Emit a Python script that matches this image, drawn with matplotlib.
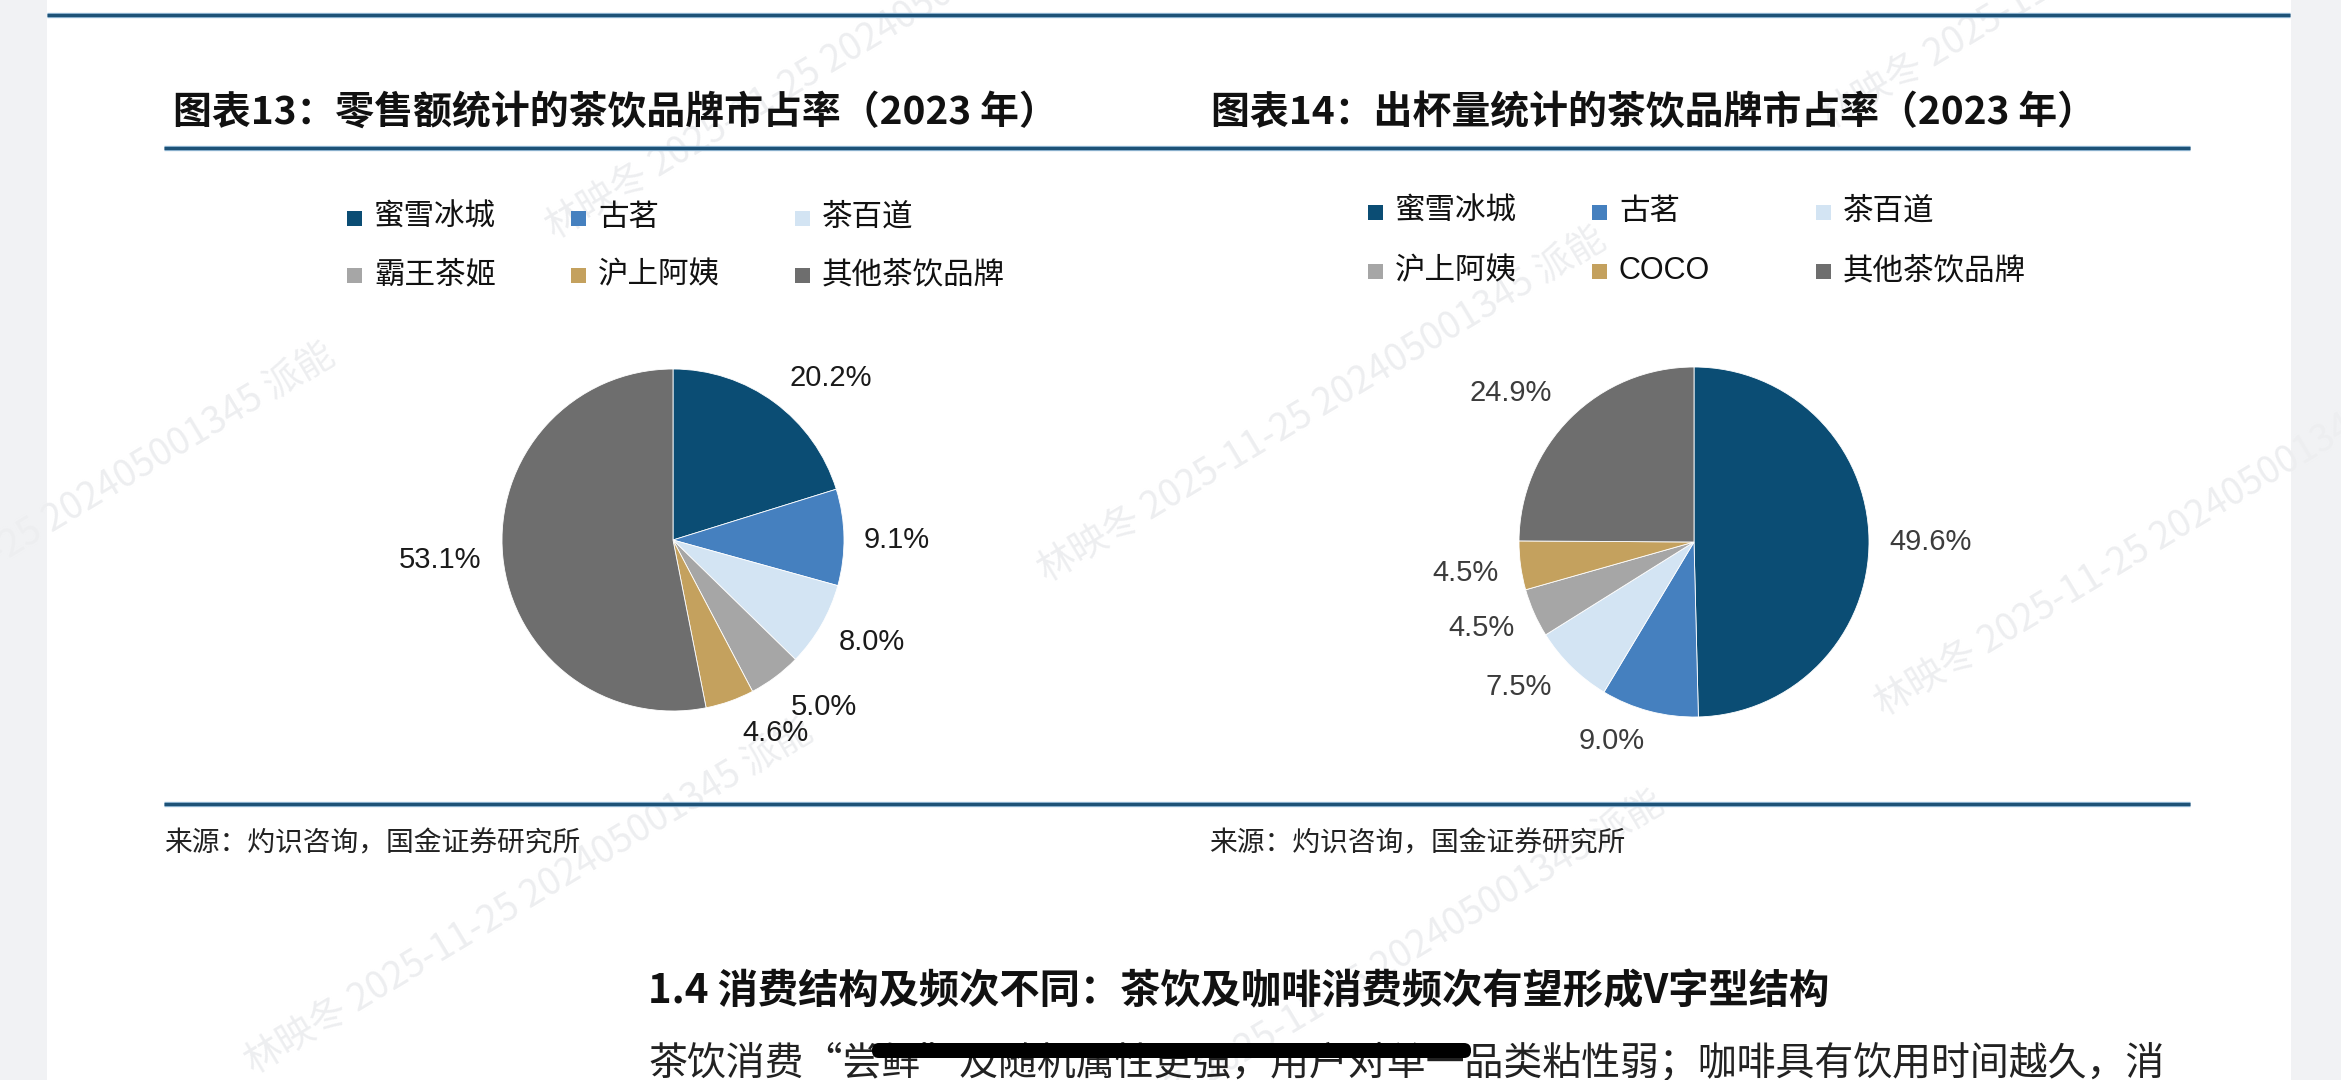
import numpy as np
import matplotlib
matplotlib.use('Agg')
import matplotlib.pyplot as plt
from matplotlib.patches import Rectangle, FancyBboxPatch

plt.rcParams['font.family'] = ['Noto Sans CJK SC', 'DejaVu Sans']

# ---------------- data ----------------
brands_retail = ['蜜雪冰城', '古茗', '茶百道', '霸王茶姬', '沪上阿姨', '其他茶饮品牌']
share_retail = [20.2, 9.1, 8.0, 5.0, 4.6, 53.1]
brands_cups = ['蜜雪冰城', '古茗', '茶百道', '沪上阿姨', 'COCO', '其他茶饮品牌']
share_cups = [49.6, 9.0, 7.5, 4.5, 4.5, 24.9]

title_retail = '图表13：零售额统计的茶饮品牌市占率（2023 年）'
title_cups = '图表14：出杯量统计的茶饮品牌市占率（2023 年）'
source_text = '来源：灼识咨询，国金证券研究所'
section_heading = '1.4 消费结构及频次不同：茶饮及咖啡消费频次有望形成V字型结构'
body_text = '茶饮消费“尝鲜”及随机属性更强，用户对单一品类粘性弱；咖啡具有饮用时间越久，消'
watermark = '林映冬 2025-11-25 202405001345 派能'

# ---------------- style ----------------
pie_colors = ['#0B4D74', '#4580BF', '#D3E4F3', '#A6A6A6', '#C4A15E', '#6E6E6E']
W, H = 2341, 1080
DPI = 100

fig = plt.figure(figsize=(W / DPI, H / DPI), dpi=DPI)
bg = fig.add_axes([0, 0, 1, 1])
bg.set_xlim(0, W)
bg.set_ylim(H, 0)
bg.axis('off')

# page background
bg.add_patch(Rectangle((0, 0), W, H, facecolor='#F1F2F4', edgecolor='none', zorder=0))
bg.add_patch(Rectangle((47, 0), 2244, H, facecolor='white', edgecolor='none', zorder=0.1))

# watermarks (faint, rotated)
for (wx, wy) in [(555, 240), (-224, 699), (1047, 583), (1884, 717), (254, 1075),
                 (1105, 1147), (1830, 130)]:
    bg.text(wx, wy, watermark, rotation=31, rotation_mode='anchor', ha='left',
            va='baseline', fontsize=27, color='#EDEEF0', zorder=0.5)


def rule(y, x0, x1):
    bg.plot([x0, x1], [y, y], color='#8DB2CF', lw=3.8, solid_capstyle='butt', zorder=2)
    bg.plot([x0, x1], [y, y], color='#1D5277', lw=2.2, solid_capstyle='butt', zorder=2.1)


rule(15, 47, 2290)
rule(148, 164, 2190)
rule(804, 164, 2190)

# titles
for tx, txt in [(173, title_retail), (1211, title_cups)]:
    bg.text(tx, 112, txt, fontsize=28, fontweight='bold', color='#111111',
            ha='left', va='center', zorder=3)

# sources
for sx in [164, 1209]:
    bg.text(sx, 843, source_text, fontsize=20, color='#222222', ha='left',
            va='center', zorder=3)

# section heading and body
bg.text(648, 992, section_heading, fontsize=29, fontweight='bold', color='#111111',
        ha='left', va='center', zorder=3)
bg.text(648, 1064, body_text, fontsize=28, color='#222222', ha='left',
        va='center', zorder=3)
bg.add_patch(FancyBboxPatch((872, 1043), 599, 15,
                            boxstyle='round,pad=0,rounding_size=7',
                            facecolor='black', edgecolor='none', zorder=4))


def legend_grid(labels, colors, x_marker, y_rows, col_pitch=224):
    for i, (lab, col) in enumerate(zip(labels, colors)):
        r, c = divmod(i, 3)
        mx = x_marker + c * col_pitch
        my = y_rows[r]
        bg.add_patch(Rectangle((mx - 7.5, my - 7.5), 15, 15, facecolor=col,
                               edgecolor='none', zorder=3))
        bg.text(mx + 20, my, lab, fontsize=22,
                family=['Liberation Sans', 'Noto Sans CJK SC'],
                color='#111111', ha='left', va='center', zorder=3)


def draw_pie(cx, cy, r, values, labels, nudges, dists, label_color, legend_x, legend_y):
    S = 330
    ax = fig.add_axes([(cx - S) / W, 1 - (cy + S) / H, 2 * S / W, 2 * S / H])
    ax.set_facecolor('none')
    wedges, _ = ax.pie(values, colors=pie_colors, startangle=90, counterclock=False,
                       wedgeprops=dict(edgecolor='white', linewidth=0.6))
    ax.set_xlim(-S / r, S / r)
    ax.set_ylim(-S / r, S / r)
    ax.axis('off')
    for w, v, dn, d in zip(wedges, values, nudges, dists):
        th = np.deg2rad((w.theta1 + w.theta2) / 2 + dn)
        ax.text(d * np.cos(th), d * np.sin(th), f'{v:.1f}%', ha='center', va='center',
                fontsize=21, family='Liberation Sans', color=label_color)
    legend_grid(labels, [w.get_facecolor() for w in wedges], legend_x, legend_y)
    return ax


draw_pie(673, 540, 171, share_retail, brands_retail,
         nudges=[-7.9, -0.9, 2.7, 5.4, 8.6, -0.6],
         dists=[1.32, 1.31, 1.31, 1.32, 1.28, 1.37],
         label_color='#1A1A1A', legend_x=354, legend_y=[218, 275])

draw_pie(1694, 542, 175, share_cups, brands_cups,
         nudges=[-0.7, -7.7, -5.9, -2.0, 0.0, 6.2],
         dists=[1.35, 1.23, 1.30, 1.31, 1.32, 1.35],
         label_color='#3C3C3C', legend_x=1375, legend_y=[212, 271])

fig.savefig('out.png', dpi=DPI)
